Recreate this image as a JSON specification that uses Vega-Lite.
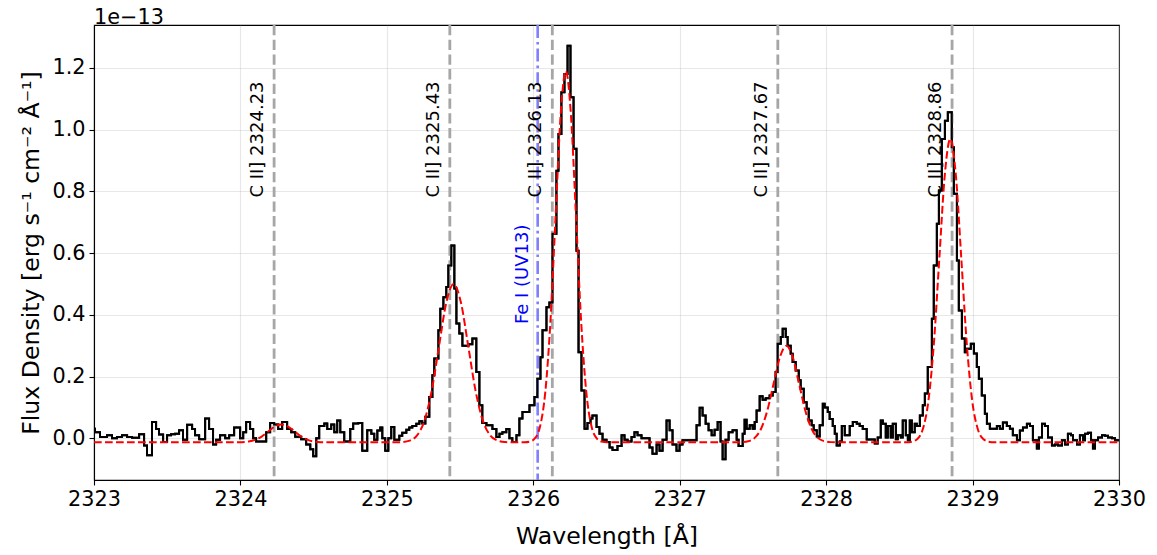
{
"$schema":"https://vega.github.io/schema/vega-lite/v6.json",
"width":1025,"height":455,
"autosize":{"type":"none"},
"padding":{"left":94,"top":25,"right":38,"bottom":75},
"background":"white",
"title":{"text":"1e−13","anchor":"start","frame":"group","fontSize":20.8,"fontWeight":"normal","font":"DejaVu Sans","color":"black","offset":0,"dy":5},
"config":{"font":"DejaVu Sans","view":{"stroke":"black","strokeWidth":1.1},
"axis":{"gridColor":"#b0b0b0","gridOpacity":0.3,"gridWidth":1.1,"domainColor":"black","domainWidth":1.1,"tickColor":"black","tickWidth":1.1,"tickSize":5,"labelFontSize":20.8,"labelColor":"black","labelPadding":4,"titleFontSize":23.6,"titleFontWeight":"normal","titleColor":"black","labelFlush":false,"labelFont":"DejaVu Sans","titleFont":"DejaVu Sans"}},
"datasets":{
"spec":[
{"w":2323.000,"f":0.031},{"w":2323.007,"f":0.02},{"w":2323.041,"f":0.004},{"w":2323.089,"f":0.01},{"w":2323.123,"f":0.0},{"w":2323.157,"f":0.004},{"w":2323.191,"f":0.01},{"w":2323.226,"f":0.004},{"w":2323.260,"f":0.002},{"w":2323.308,"f":0.013},{"w":2323.342,"f":-0.023},{"w":2323.362,"f":-0.055},{"w":2323.396,"f":0.053},{"w":2323.424,"f":0.03},{"w":2323.444,"f":0.012},{"w":2323.472,"f":-0.012},{"w":2323.499,"f":0.01},{"w":2323.526,"f":0.013},{"w":2323.554,"f":0.015},{"w":2323.581,"f":0.026},{"w":2323.608,"f":-0.005},{"w":2323.636,"f":0.044},{"w":2323.670,"f":0.03},{"w":2323.690,"f":0.01},{"w":2323.718,"f":-0.003},{"w":2323.759,"f":0.064},{"w":2323.786,"f":0.03},{"w":2323.813,"f":-0.02},{"w":2323.834,"f":-0.005},{"w":2323.861,"f":0.01},{"w":2323.896,"f":0.0},{"w":2323.923,"f":0.01},{"w":2323.957,"f":0.035},{"w":2323.998,"f":0.0},
{"w":2324.019,"f":0.02},{"w":2324.039,"f":0.053},{"w":2324.066,"f":0.03},{"w":2324.087,"f":0.0},{"w":2324.107,"f":-0.01},{"w":2324.176,"f":0.02},{"w":2324.203,"f":0.05},{"w":2324.230,"f":0.045},{"w":2324.258,"f":0.03},{"w":2324.285,"f":0.053},{"w":2324.319,"f":0.03},{"w":2324.347,"f":0.02},{"w":2324.374,"f":0.005},{"w":2324.415,"f":-0.003},{"w":2324.449,"f":-0.02},{"w":2324.477,"f":-0.035},{"w":2324.497,"f":-0.058},{"w":2324.518,"f":0.0},{"w":2324.538,"f":0.04},{"w":2324.573,"f":0.048},{"w":2324.593,"f":0.03},{"w":2324.620,"f":0.045},{"w":2324.641,"f":0.02},{"w":2324.661,"f":0.058},{"w":2324.682,"f":0.02},{"w":2324.709,"f":-0.01},{"w":2324.750,"f":0.03},{"w":2324.770,"f":0.048},{"w":2324.805,"f":0.05},{"w":2324.832,"f":-0.04},{"w":2324.866,"f":0.026},{"w":2324.894,"f":0.015},{"w":2324.914,"f":-0.005},{"w":2324.935,"f":0.025},{"w":2324.955,"f":0.035},{"w":2324.969,"f":0.0},{"w":2324.989,"f":-0.04},
{"w":2325.010,"f":0.0},{"w":2325.030,"f":0.037},{"w":2325.051,"f":-0.005},{"w":2325.085,"f":0.008},{"w":2325.105,"f":0.018},{"w":2325.133,"f":0.028},{"w":2325.153,"f":0.035},{"w":2325.174,"f":0.04},{"w":2325.201,"f":0.047},{"w":2325.222,"f":0.055},{"w":2325.242,"f":0.048},{"w":2325.263,"f":0.07},{"w":2325.290,"f":0.134},{"w":2325.311,"f":0.204},{"w":2325.324,"f":0.259},{"w":2325.352,"f":0.35},{"w":2325.365,"f":0.42},{"w":2325.386,"f":0.457},{"w":2325.406,"f":0.49},{"w":2325.420,"f":0.56},{"w":2325.440,"f":0.625},{"w":2325.461,"f":0.485},{"w":2325.475,"f":0.372},{"w":2325.495,"f":0.34},{"w":2325.516,"f":0.30},{"w":2325.557,"f":0.305},{"w":2325.584,"f":0.323},{"w":2325.611,"f":0.215},{"w":2325.632,"f":0.107},{"w":2325.652,"f":0.05},{"w":2325.680,"f":0.042},{"w":2325.721,"f":0.03},{"w":2325.748,"f":0.004},{"w":2325.769,"f":0.015},{"w":2325.789,"f":0.02},{"w":2325.816,"f":0.03},{"w":2325.837,"f":0.0},{"w":2325.857,"f":-0.012},{"w":2325.885,"f":0.01},{"w":2325.905,"f":0.064},{"w":2325.926,"f":0.085},{"w":2325.974,"f":0.107},
{"w":2326.008,"f":0.134},{"w":2326.028,"f":0.193},{"w":2326.049,"f":0.263},{"w":2326.063,"f":0.35},{"w":2326.090,"f":0.425},{"w":2326.110,"f":0.44},{"w":2326.131,"f":0.663},{"w":2326.158,"f":0.867},{"w":2326.172,"f":0.986},{"w":2326.192,"f":1.121},{"w":2326.213,"f":1.18},{"w":2326.234,"f":1.272},{"w":2326.254,"f":1.105},{"w":2326.275,"f":0.938},{"w":2326.295,"f":0.608},{"w":2326.309,"f":0.279},{"w":2326.329,"f":0.155},{"w":2326.350,"f":0.031},{"w":2326.370,"f":0.05},{"w":2326.391,"f":0.064},{"w":2326.404,"f":0.074},{"w":2326.432,"f":0.037},{"w":2326.452,"f":0.015},{"w":2326.473,"f":-0.005},{"w":2326.500,"f":-0.012},{"w":2326.521,"f":-0.03},{"w":2326.541,"f":-0.038},{"w":2326.575,"f":-0.025},{"w":2326.603,"f":0.01},{"w":2326.623,"f":-0.005},{"w":2326.644,"f":-0.01},{"w":2326.671,"f":0.004},{"w":2326.691,"f":0.02},{"w":2326.712,"f":0.01},{"w":2326.739,"f":0.0},{"w":2326.794,"f":-0.03},{"w":2326.814,"f":-0.05},{"w":2326.842,"f":-0.02},{"w":2326.862,"f":-0.04},{"w":2326.883,"f":-0.005},{"w":2326.910,"f":0.058},{"w":2326.931,"f":0.026},{"w":2326.951,"f":-0.02},{"w":2326.978,"f":-0.04},{"w":2326.999,"f":-0.02},
{"w":2327.019,"f":-0.006},{"w":2327.115,"f":0.042},{"w":2327.136,"f":0.099},{"w":2327.156,"f":0.074},{"w":2327.177,"f":0.047},{"w":2327.197,"f":0.026},{"w":2327.218,"f":0.01},{"w":2327.238,"f":0.028},{"w":2327.259,"f":0.053},{"w":2327.279,"f":-0.01},{"w":2327.293,"f":-0.068},{"w":2327.313,"f":-0.005},{"w":2327.334,"f":0.02},{"w":2327.361,"f":0.026},{"w":2327.389,"f":-0.005},{"w":2327.402,"f":-0.025},{"w":2327.430,"f":0.015},{"w":2327.443,"f":0.06},{"w":2327.457,"f":0.031},{"w":2327.478,"f":0.042},{"w":2327.498,"f":0.031},{"w":2327.512,"f":0.053},{"w":2327.525,"f":0.09},{"w":2327.546,"f":0.136},{"w":2327.566,"f":0.125},{"w":2327.587,"f":0.13},{"w":2327.614,"f":0.139},{"w":2327.635,"f":0.15},{"w":2327.655,"f":0.215},{"w":2327.669,"f":0.306},{"w":2327.690,"f":0.328},{"w":2327.703,"f":0.355},{"w":2327.724,"f":0.328},{"w":2327.737,"f":0.30},{"w":2327.758,"f":0.274},{"w":2327.771,"f":0.247},{"w":2327.792,"f":0.22},{"w":2327.813,"f":0.188},{"w":2327.826,"f":0.161},{"w":2327.847,"f":0.117},{"w":2327.867,"f":0.096},{"w":2327.881,"f":0.058},{"w":2327.901,"f":0.042},{"w":2327.915,"f":0.026},{"w":2327.936,"f":0.006},{"w":2327.956,"f":0.042},{"w":2327.977,"f":0.112},{"w":2327.990,"f":0.10},
{"w":2328.011,"f":0.085},{"w":2328.024,"f":0.063},{"w":2328.045,"f":0.04},{"w":2328.059,"f":0.015},{"w":2328.072,"f":-0.023},{"w":2328.093,"f":-0.01},{"w":2328.107,"f":0.04},{"w":2328.127,"f":0.01},{"w":2328.161,"f":0.04},{"w":2328.182,"f":0.053},{"w":2328.209,"f":0.047},{"w":2328.229,"f":0.04},{"w":2328.250,"f":0.03},{"w":2328.277,"f":-0.004},{"w":2328.332,"f":-0.017},{"w":2328.352,"f":0.003},{"w":2328.373,"f":0.058},{"w":2328.387,"f":0.047},{"w":2328.407,"f":0.003},{"w":2328.421,"f":0.04},{"w":2328.441,"f":0.003},{"w":2328.455,"f":0.047},{"w":2328.476,"f":-0.003},{"w":2328.489,"f":0.01},{"w":2328.510,"f":0.003},{"w":2328.523,"f":0.058},{"w":2328.544,"f":0.01},{"w":2328.558,"f":-0.006},{"w":2328.571,"f":0.058},{"w":2328.585,"f":0.02},{"w":2328.605,"f":0.047},{"w":2328.619,"f":0.04},{"w":2328.640,"f":0.074},{"w":2328.660,"f":0.107},{"w":2328.674,"f":0.145},{"w":2328.694,"f":0.231},{"w":2328.722,"f":0.387},{"w":2328.735,"f":0.56},{"w":2328.756,"f":0.695},{"w":2328.770,"f":0.803},{"w":2328.790,"f":0.97},{"w":2328.811,"f":1.029},{"w":2328.831,"f":1.056},{"w":2328.858,"f":0.943},{"w":2328.872,"f":0.792},{"w":2328.893,"f":0.576},{"w":2328.906,"f":0.414},{"w":2328.927,"f":0.323},{"w":2328.947,"f":0.279},{"w":2328.961,"f":0.29},{"w":2328.988,"f":0.306},
{"w":2329.009,"f":0.275},{"w":2329.029,"f":0.231},{"w":2329.043,"f":0.193},{"w":2329.063,"f":0.139},{"w":2329.084,"f":0.08},{"w":2329.098,"f":0.047},{"w":2329.118,"f":0.031},{"w":2329.166,"f":0.04},{"w":2329.186,"f":0.031},{"w":2329.207,"f":0.051},{"w":2329.234,"f":0.04},{"w":2329.255,"f":0.031},{"w":2329.275,"f":0.01},{"w":2329.303,"f":-0.006},{"w":2329.323,"f":0.025},{"w":2329.344,"f":0.035},{"w":2329.371,"f":0.047},{"w":2329.392,"f":0.04},{"w":2329.412,"f":-0.006},{"w":2329.439,"f":-0.033},{"w":2329.453,"f":0.003},{"w":2329.474,"f":0.047},{"w":2329.494,"f":0.04},{"w":2329.515,"f":0.003},{"w":2329.542,"f":-0.023},{"w":2329.562,"f":-0.02},{"w":2329.583,"f":-0.023},{"w":2329.610,"f":-0.006},{"w":2329.631,"f":-0.02},{"w":2329.651,"f":0.015},{"w":2329.672,"f":0.01},{"w":2329.686,"f":-0.006},{"w":2329.713,"f":-0.02},{"w":2329.733,"f":0.01},{"w":2329.754,"f":-0.006},{"w":2329.768,"f":0.015},{"w":2329.788,"f":0.018},{"w":2329.809,"f":-0.006},{"w":2329.822,"f":-0.033},{"w":2329.836,"f":-0.006},{"w":2329.857,"f":0.003},{"w":2329.884,"f":0.01},{"w":2329.904,"f":0.008},{"w":2329.925,"f":0.003},{"w":2329.952,"f":0.0},{"w":2329.973,"f":-0.006},{"w":2330.020,"f":-0.006}
],
"model":[
{"w":2323.0,"m":-0.013},{"w":2323.965,"m":-0.0129},{"w":2324.01,"m":-0.0124},{"w":2324.055,"m":-0.0105},{"w":2324.10,"m":-0.0052},{"w":2324.145,"m":0.0058},{"w":2324.19,"m":0.0222},{"w":2324.235,"m":0.0382},{"w":2324.28,"m":0.045},{"w":2324.325,"m":0.0382},{"w":2324.37,"m":0.0222},{"w":2324.415,"m":0.0058},{"w":2324.46,"m":-0.0052},{"w":2324.505,"m":-0.0105},{"w":2324.55,"m":-0.0124},{"w":2324.595,"m":-0.0129},
{"w":2325.056,"m":-0.0128},{"w":2325.106,"m":-0.0119},{"w":2325.156,"m":-0.0073},{"w":2325.206,"m":0.0095},{"w":2325.256,"m":0.0564},{"w":2325.306,"m":0.1536},{"w":2325.356,"m":0.2981},{"w":2325.406,"m":0.4397},{"w":2325.456,"m":0.500},{"w":2325.506,"m":0.4397},{"w":2325.556,"m":0.2981},{"w":2325.606,"m":0.1536},{"w":2325.656,"m":0.0564},{"w":2325.706,"m":0.0095},{"w":2325.756,"m":-0.0073},{"w":2325.806,"m":-0.0119},{"w":2325.856,"m":-0.0128},
{"w":2325.942,"m":-0.0126},{"w":2325.977,"m":-0.0104},{"w":2326.012,"m":0.0004},{"w":2326.047,"m":0.0398},{"w":2326.082,"m":0.1498},{"w":2326.117,"m":0.3776},{"w":2326.152,"m":0.7166},{"w":2326.187,"m":1.0487},{"w":2326.222,"m":1.19},{"w":2326.257,"m":1.0487},{"w":2326.292,"m":0.7166},{"w":2326.327,"m":0.3776},{"w":2326.362,"m":0.1498},{"w":2326.397,"m":0.0398},{"w":2326.432,"m":0.0004},{"w":2326.467,"m":-0.0104},{"w":2326.502,"m":-0.0126},
{"w":2327.38,"m":-0.0129},{"w":2327.4235,"m":-0.0123},{"w":2327.467,"m":-0.0095},{"w":2327.5105,"m":0.0007},{"w":2327.554,"m":0.0294},{"w":2327.5975,"m":0.0886},{"w":2327.641,"m":0.1768},{"w":2327.6845,"m":0.2632},{"w":2327.728,"m":0.300},{"w":2327.7715,"m":0.2632},{"w":2327.815,"m":0.1768},{"w":2327.8585,"m":0.0886},{"w":2327.902,"m":0.0294},{"w":2327.9455,"m":0.0007},{"w":2327.989,"m":-0.0095},{"w":2328.0325,"m":-0.0123},{"w":2328.076,"m":-0.0129},
{"w":2328.548,"m":-0.0127},{"w":2328.5855,"m":-0.0108},{"w":2328.623,"m":-0.0021},{"w":2328.6605,"m":0.0302},{"w":2328.698,"m":0.1200},{"w":2328.7355,"m":0.3062},{"w":2328.773,"m":0.5832},{"w":2328.8105,"m":0.8545},{"w":2328.848,"m":0.970},{"w":2328.8855,"m":0.8545},{"w":2328.923,"m":0.5832},{"w":2328.9605,"m":0.3062},{"w":2328.998,"m":0.1200},{"w":2329.0355,"m":0.0302},{"w":2329.073,"m":-0.0021},{"w":2329.1105,"m":-0.0108},{"w":2329.148,"m":-0.0127},{"w":2330.0,"m":-0.013}
],
"lines":[
{"w":2324.23,"kind":"C","label":"C II] 2324.23"},
{"w":2325.43,"kind":"C","label":"C II] 2325.43"},
{"w":2326.13,"kind":"C","label":"C II] 2326.13"},
{"w":2327.67,"kind":"C","label":"C II] 2327.67"},
{"w":2328.86,"kind":"C","label":"C II] 2328.86"},
{"w":2326.03,"kind":"Fe","label":"Fe I (UV13)"}
]
},
"layer":[
{"data":{"name":"spec"},
 "mark":{"type":"line","interpolate":"step-after","color":"black","strokeWidth":2,"clip":true},
 "encoding":{
  "x":{"field":"w","type":"quantitative","scale":{"domain":[2323,2330],"nice":false,"zero":false},
       "axis":{"title":"Wavelength [Å]","values":[2323,2324,2325,2326,2327,2328,2329,2330],"format":"d","titlePadding":16,"grid":true}},
  "y":{"field":"f","type":"quantitative","scale":{"domain":[-0.135,1.339],"nice":false,"zero":false},
       "axis":{"title":"Flux Density [erg s⁻¹ cm⁻² Å⁻¹]","values":[0,0.2,0.4,0.6,0.8,1.0,1.2],"format":".1f","titlePadding":8,"grid":true}}
 }},
{"data":{"name":"lines"},
 "transform":[{"filter":"datum.kind == 'C'"}],
 "mark":{"type":"rule","color":"#a6a6a6","strokeWidth":2.8,"strokeDash":[10.3,4.4]},
 "encoding":{"x":{"field":"w","type":"quantitative","title":"Wavelength [Å]"}}},
{"data":{"name":"lines"},
 "transform":[{"filter":"datum.kind == 'Fe'"}],
 "mark":{"type":"rule","color":"#8080ff","strokeWidth":2.6,"strokeDash":[13,4,2.6,4]},
 "encoding":{"x":{"field":"w","type":"quantitative","title":"Wavelength [Å]"}}},
{"data":{"name":"spec"},
 "mark":{"type":"line","interpolate":"step-after","color":"black","strokeWidth":2,"clip":true},
 "encoding":{
  "x":{"field":"w","type":"quantitative","title":"Wavelength [Å]"},
  "y":{"field":"f","type":"quantitative","title":"Flux Density [erg s⁻¹ cm⁻² Å⁻¹]"}}},
{"data":{"name":"model"},
 "mark":{"type":"line","interpolate":"monotone","color":"red","strokeWidth":2,"strokeDash":[7.7,3.3],"clip":true},
 "encoding":{
  "x":{"field":"w","type":"quantitative","title":"Wavelength [Å]"},
  "y":{"field":"m","type":"quantitative","title":"Flux Density [erg s⁻¹ cm⁻² Å⁻¹]"}}},
{"data":{"name":"lines"},
 "transform":[{"filter":"datum.kind == 'C'"}],
 "mark":{"type":"text","angle":270,"align":"left","baseline":"alphabetic","dy":-11,"fontSize":18,"color":"black","font":"DejaVu Sans"},
 "encoding":{
  "x":{"field":"w","type":"quantitative","title":"Wavelength [Å]"},
  "y":{"datum":0.78,"title":"Flux Density [erg s⁻¹ cm⁻² Å⁻¹]"},
  "text":{"field":"label"}}},
{"data":{"name":"lines"},
 "transform":[{"filter":"datum.kind == 'Fe'"}],
 "mark":{"type":"text","angle":270,"align":"left","baseline":"alphabetic","dy":-10,"fontSize":18,"color":"blue","font":"DejaVu Sans"},
 "encoding":{
  "x":{"field":"w","type":"quantitative","title":"Wavelength [Å]"},
  "y":{"datum":0.37,"title":"Flux Density [erg s⁻¹ cm⁻² Å⁻¹]"},
  "text":{"field":"label"}}}
]
}
